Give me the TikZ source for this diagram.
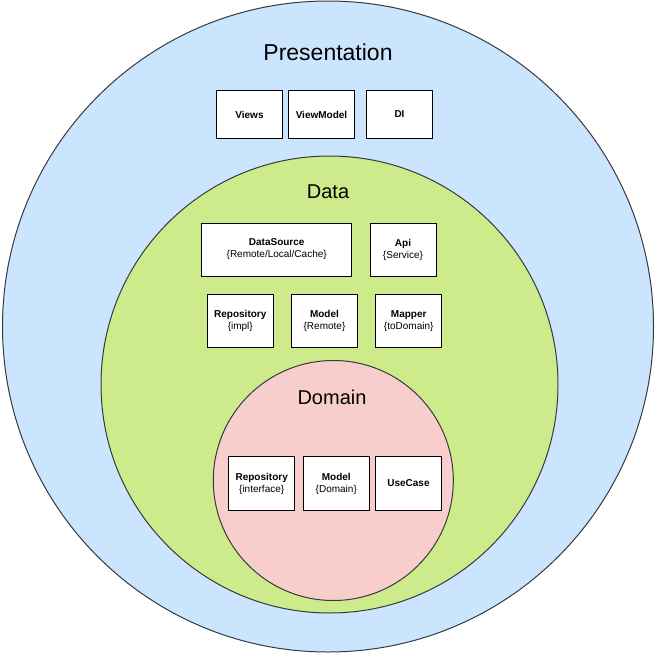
\documentclass[tikz,border=0pt]{standalone}
\usepackage{fontspec}
\setmainfont{Liberation Sans}
\definecolor{presfill}{HTML}{CCE5FF}
\definecolor{datafill}{HTML}{CDEB8B}
\definecolor{domfill}{HTML}{F8CECC}
\definecolor{ringline}{HTML}{36393D}
\begin{document}
\begin{tikzpicture}[x=1pt,y=-1pt,
  ring/.style={circle,draw=ringline,line width=1pt,inner sep=0pt},
  layertitle/.style={font=\fontsize{20}{24}\selectfont,inner sep=0pt},
  comp/.style={draw=black,fill=white,line width=1pt,align=center,inner sep=0pt,
    font=\fontsize{10}{12}\selectfont},
  compA/.style={comp,minimum width=66pt,minimum height=48pt},
  compB/.style={comp,minimum width=66pt,minimum height=53pt},
  compC/.style={comp,minimum width=66pt,minimum height=54pt}]
\useasboundingbox (0,0) rectangle (656,656);
\node[ring,fill=presfill,minimum size=651pt] (pres) at (328,326.5) {};
\node[ring,fill=datafill,minimum size=457pt] (data) at (329.5,384.5) {};
\node[ring,fill=domfill,minimum size=240pt] (dom) at (333.3,480.5) {};
\node[layertitle,font=\fontsize{23}{26}\selectfont] (prestitle) at (328,52) {Presentation};
\node[layertitle] (datatitle) at (328,192) {Data};
\node[layertitle] (domtitle) at (332,397) {Domain};
% presentation
\node[compA] (views) at (249.5,114.5) {\textbf{Views}};
\node[compA] (viewmodel) at (321.5,114.5) {\textbf{ViewModel}};
\node[compA] (di) at (399.5,114.5) {\textbf{DI}};
% data
\node[compB,minimum width=150pt] (datasource) at (276.7,249.5) {\textbf{DataSource}\\\{Remote/Local/Cache\}};
\node[compB] (api) at (403,249.5) {\textbf{Api}\\\{Service\}};
\node[compB] (repoimpl) at (240.3,321) {\textbf{Repository}\\\{impl\}};
\node[compB] (modelremote) at (324.5,321) {\textbf{Model}\\\{Remote\}};
\node[compB] (mapper) at (408.7,321) {\textbf{Mapper}\\\{toDomain\}};
% domain
\node[compC] (repoif) at (261.7,483.5) {\textbf{Repository}\\\{interface\}};
\node[compC] (modeldomain) at (336.3,483.5) {\textbf{Model}\\\{Domain\}};
\node[compC] (usecase) at (408.5,483.5) {\textbf{UseCase}};
\end{tikzpicture}
\end{document}
